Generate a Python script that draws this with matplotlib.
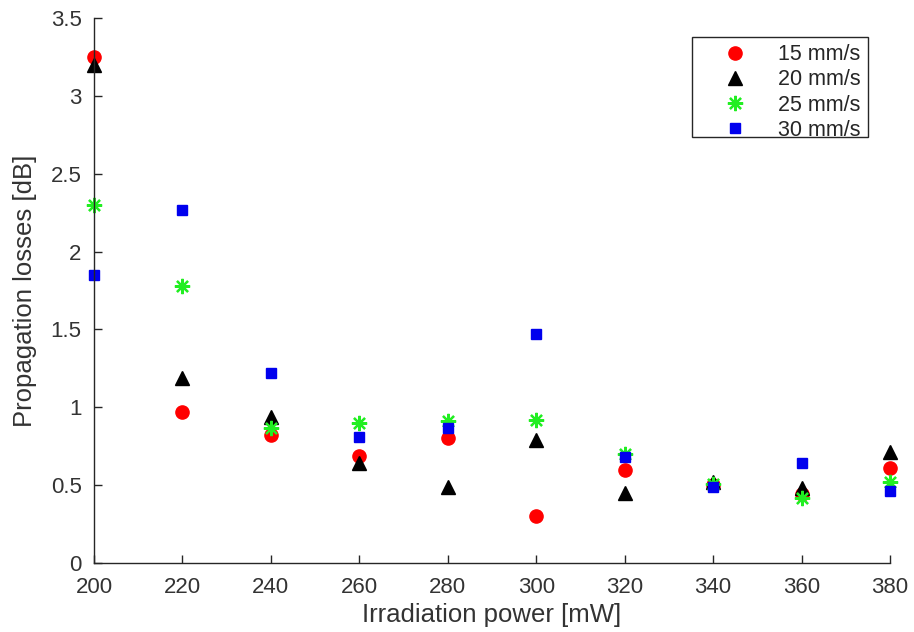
import matplotlib
matplotlib.use("Agg")
import matplotlib.pyplot as plt
from matplotlib.patches import Rectangle

plt.rcParams['font.family'] = ['Liberation Sans', 'DejaVu Sans']

power = [200, 220, 240, 260, 280, 300, 320, 340, 360, 380]
loss_15 = [3.25, 0.97, 0.82, 0.69, 0.80, 0.30, 0.60, 0.50, 0.44, 0.61]
loss_20 = [3.20, 1.19, 0.94, 0.64, 0.49, 0.79, 0.45, 0.52, 0.48, 0.71]
loss_25 = [2.30, 1.78, 0.87, 0.90, 0.91, 0.92, 0.70, 0.51, 0.42, 0.52]
loss_30 = [1.85, 2.27, 1.22, 0.81, 0.87, 1.47, 0.68, 0.49, 0.64, 0.46]
labels = ['15 mm/s', '20 mm/s', '25 mm/s', '30 mm/s']
x_ticks = [200, 220, 240, 260, 280, 300, 320, 340, 360, 380]
y_ticks = [0, 0.5, 1, 1.5, 2, 2.5, 3, 3.5]
y_tick_labels = ['0', '0.5', '1', '1.5', '2', '2.5', '3', '3.5']

W, H = 914, 632
fig = plt.figure(figsize=(W / 100, H / 100), dpi=100)
ax = fig.add_axes([94 / W, 69 / H, (890 - 94) / W, (563 - 18) / H])

ax.plot(power, loss_15, linestyle='none', marker='o', markersize=9.5,
        color='#ff0000', markeredgecolor='#ff0000', label=labels[0], clip_on=False)
ax.plot(power, loss_20, linestyle='none', marker='^', markersize=9.5,
        color='black', label=labels[1], clip_on=False)
ax.plot(power, loss_25, linestyle='none', marker=(8, 2, 0), markersize=11,
        markeredgewidth=1.6, color='#22ee22', markeredgecolor='#22ee22',
        label=labels[2], clip_on=False)
ax.plot(power, loss_30, linestyle='none', marker='s', markersize=7,
        color='#0000ee', markeredgecolor='#0000ee', label=labels[3], clip_on=False)

ax.set_xlim(200, 380)
ax.set_ylim(0, 3.5)
ax.set_xticks(x_ticks)
ax.set_yticks(y_ticks)
ax.set_yticklabels(y_tick_labels)

for side in ('top', 'right'):
    ax.spines[side].set_visible(False)
for side in ('left', 'bottom'):
    ax.spines[side].set_color('#262626')
    ax.spines[side].set_linewidth(1.0)

ax.tick_params(direction='in', length=6, width=1.0, colors='#262626',
               labelsize=16, labelcolor='#333333')
ax.tick_params(axis='x', pad=10)
ax.tick_params(axis='y', pad=9)

ax.set_xlabel('Irradiation power [mW]', fontsize=18.5, color='#333333', labelpad=4)
ax.set_ylabel('Propagation losses [dB]', fontsize=18.5, color='#333333', labelpad=10)

# legend entries without their own frame; a tighter box is drawn around them
leg = ax.legend(loc='upper right', bbox_to_anchor=(868 / W, (H - 37) / H),
                bbox_transform=fig.transFigure, fontsize=15.5, frameon=False,
                borderpad=0.33, labelspacing=0.2,
                handletextpad=0.33, handlelength=3.35, borderaxespad=0)
for t in leg.get_texts():
    t.set_color('#262626')

fig.patches.append(Rectangle((692 / W, (H - 137) / H), (868 - 692) / W, 100 / H,
                             transform=fig.transFigure, fill=False,
                             edgecolor='#262626', linewidth=1.0, zorder=5))

fig.savefig('out.png', dpi=100)
